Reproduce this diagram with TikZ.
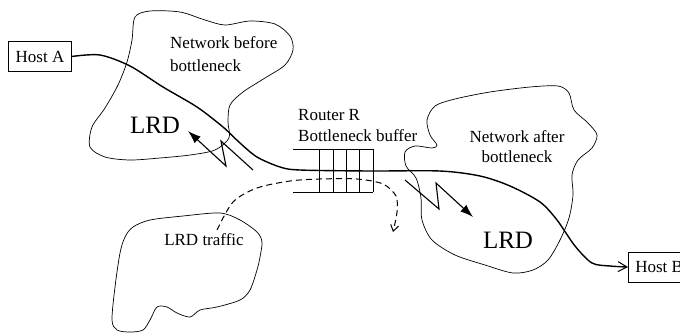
\documentclass[tikz,border=0pt]{standalone}
\usepackage{fontspec}
\setmainfont{Liberation Serif}
\usetikzlibrary{arrows.meta}

\tikzset{
  cloudline/.style={line width=0.7pt},
  host/.style={draw, line width=0.7pt, inner xsep=7pt, minimum height=30pt, font=\fontsize{17}{20}\selectfont},
  labeltext/.style={inner sep=0pt, font=\fontsize{17}{20}\selectfont},
  bigtext/.style={inner sep=0pt, font=\fontsize{25}{30}\selectfont},
  flow/.style={line width=1.4pt},
  bolt/.style={line width=1.1pt, -{Latex[length=13pt,width=9pt]}},
}

\begin{document}
\begin{tikzpicture}[x=1pt, y=-1pt]
    \useasboundingbox (0,0) rectangle (680,333);

    % Clouds
    \draw[cloudline] plot[smooth cycle] coordinates {(132,40) (135,17) (150,11) (180,12) (205,20) (225,25)
        (250,21) (275,24) (290,36) (293,50) (285,65) (265,78) (243,92) (230,105) (228,122) (229,138)
        (215,150) (190,155) (160,158) (130,160) (105,157) (90,147) (92,127) (105,108) (118,85) (127,62)};
    \draw[cloudline] plot[smooth cycle] coordinates {(427,120) (435,106) (455,99) (490,92) (530,87) (558,86)
        (569,93) (574,110) (588,123) (597,135) (592,148) (578,160) (572,175) (573,195) (569,218) (560,240)
        (548,260) (533,270) (513,273) (485,265) (455,255) (432,240) (422,220) (421,198) (416,178) (406,166)
        (405,152) (415,146) (432,148) (437,145) (430,135)};
    \draw[cloudline] plot[smooth cycle] coordinates {(125,237) (133,227) (150,220) (183,216) (220,213) (240,220)
        (257,232) (262,242) (260,257) (257,270) (250,290) (240,300) (217,307) (200,310) (190,317) (177,313)
        (167,307) (157,307) (150,320) (143,330) (130,332) (117,330) (112,320) (115,287) (120,253)};

    % Labels
    \node[labeltext, anchor=north west, align=left, font=\fontsize{17}{23}\selectfont] (netbefore) at (170,36.5)
        {Network before\\bottleneck};
    \node[labeltext, anchor=north, align=center] (netafter) at (517,130.5) {Network after\\bottleneck};
    \node[labeltext, anchor=north west, align=left, font=\fontsize{17}{21}\selectfont] (router) at (298,108.7)
        {Router R\\Bottleneck buffer};
    \node[bigtext, anchor=base] (lrdleft) at (155,133) {LRD};
    \node[bigtext, anchor=base] (lrdright) at (508,248) {LRD};
    \node[labeltext, anchor=base] (lrdtraffic) at (204,245) {LRD traffic};

    % Hosts
    \node[host] (hosta) at (40,56.5) {Host A};
    \node[host, anchor=west] (hostb) at (628,267) {Host B};

    % Bottleneck buffer
    \draw[cloudline] (293,149) -- (373,149) (293,192) -- (373,192);
    \foreach \x in {319,333,346,359,373}
        \draw[cloudline] (\x,149) -- (\x,192);

    % Main flow
    \draw[flow, -{Straight Barb[length=9pt,width=10pt,line width=1pt]}] plot[smooth] coordinates {(hosta.east) (100,55)
        (130,66) (163,87) (197,107) (223,127) (240,143) (257,157) (280,167) (300,170) (370,171) (440,171)
        (480,176) (510,186) (540,202) (557,220) (575,246) (592,263) (610,266) (hostb.west)};

    % LRD traffic through the buffer
    \coordinate (lrdsrc) at (217,230);
    \coordinate (lrdsink) at (393,232);
    \draw[line width=1pt, dash pattern=on 6pt off 4pt, -{Straight Barb[length=6pt,width=8pt]}] plot[smooth]
        coordinates {(lrdsrc) (233,202) (257,188) (290,181) (320,179) (357,179) (383,184) (396,196) (397,212) (lrdsink)};

    % Bolts
    \coordinate (boltin) at (253,170);
    \coordinate (boltout) at (405,180);
    \draw[bolt] (boltin) -- (221,141) -- (226,166) -- (188,131);
    \draw[bolt] (boltout) -- (439,209) -- (436,183) -- (473,217);
\end{tikzpicture}
\end{document}
